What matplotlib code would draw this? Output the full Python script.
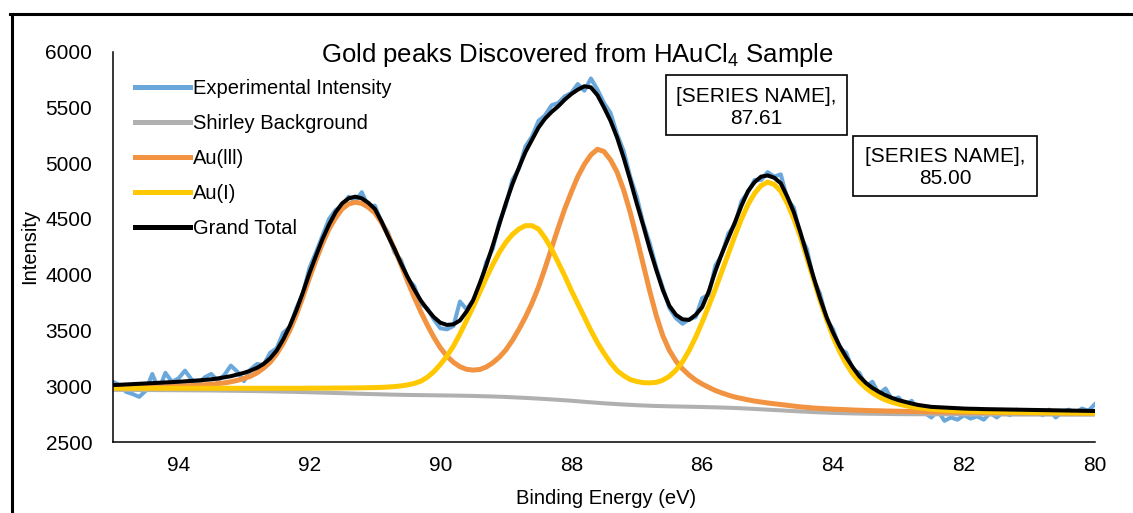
import numpy as np
import matplotlib
matplotlib.use("Agg")
import matplotlib.pyplot as plt
from matplotlib.lines import Line2D
from matplotlib.patches import Rectangle

plt.rcParams['font.family'] = ['Liberation Sans', 'DejaVu Sans']
plt.rcParams['mathtext.fontset'] = 'custom'
plt.rcParams['mathtext.rm'] = 'Liberation Sans'
plt.rcParams['mathtext.it'] = 'Liberation Sans'

# binding energy grids (eV)
energy = np.linspace(95.0, 80.0, 151)          # 0.1 eV steps
energy_bg = np.linspace(95.0, 80.0, 61)        # 0.25 eV steps

# measured counts
experimental = [
    3040, 3010, 2950, 2930, 2905, 2960, 3110, 2965, 3120, 3040,
    3070, 3140, 3060, 3020, 3080, 3110, 3050, 3100, 3185, 3130,
    3045, 3150, 3200, 3190, 3300, 3340, 3480, 3530, 3700, 3830,
    4060, 4200, 4350, 4500, 4580, 4620, 4700, 4660, 4740, 4610,
    4620, 4470, 4380, 4200, 4130, 3960, 3900, 3740, 3700, 3600,
    3520, 3510, 3540, 3760, 3690, 3770, 3870, 4110, 4230, 4470,
    4620, 4850, 4950, 5150, 5240, 5380, 5430, 5520, 5540, 5600,
    5630, 5710, 5650, 5760, 5660, 5540, 5450, 5260, 5110, 4880,
    4700, 4460, 4280, 4060, 3880, 3700, 3610, 3560, 3600, 3620,
    3790, 3820, 4080, 4180, 4370, 4450, 4660, 4740, 4850, 4850,
    4920, 4880, 4900, 4680, 4600, 4350, 4230, 3960, 3830, 3600,
    3510, 3340, 3300, 3150, 3120, 3000, 3040, 2930, 2980, 2880,
    2900, 2830, 2870, 2780, 2760, 2720, 2780, 2690, 2720, 2700,
    2740, 2710, 2730, 2700, 2760, 2720, 2770, 2740, 2790, 2750,
    2760, 2780, 2740, 2790, 2720, 2770, 2790, 2760, 2800, 2780,
    2840,
]

grand_total = [
    3011, 3013, 3016, 3019, 3022, 3025, 3028, 3031, 3034, 3037,
    3040, 3044, 3048, 3052, 3057, 3062, 3070, 3080, 3090, 3105,
    3120, 3140, 3165, 3200, 3250, 3320, 3420, 3540, 3680, 3840,
    4014, 4170, 4320, 4450, 4560, 4640, 4685, 4700, 4685, 4645,
    4590, 4480, 4350, 4230, 4100, 3980, 3870, 3770, 3690, 3620,
    3570, 3550, 3555, 3590, 3670, 3770, 3920, 4080, 4260, 4450,
    4640, 4810, 4960, 5100, 5210, 5320, 5400, 5460, 5510, 5570,
    5620, 5660, 5690, 5680, 5610, 5500, 5380, 5230, 5050, 4850,
    4640, 4440, 4230, 4040, 3860, 3720, 3640, 3600, 3595, 3640,
    3710, 3850, 4030, 4190, 4330, 4470, 4620, 4750, 4830, 4880,
    4890, 4870, 4820, 4700, 4560, 4380, 4180, 3980, 3790, 3620,
    3480, 3360, 3260, 3170, 3090, 3030, 2985, 2950, 2920, 2895,
    2875, 2860, 2845, 2832, 2823, 2815, 2812, 2809, 2806, 2803,
    2800, 2798, 2797, 2795, 2794, 2793, 2792, 2791, 2790, 2789,
    2788, 2787, 2786, 2785, 2784, 2783, 2782, 2781, 2780, 2779,
    2778,
]

au3 = [
    2985, 2986, 2987, 2988, 2990, 2991, 2993, 2994, 2996, 2998,
    3000, 3003, 3006, 3009, 3013, 3017, 3023, 3030, 3040, 3053,
    3070, 3090, 3120, 3162, 3215, 3290, 3385, 3500, 3640, 3800,
    3970, 4130, 4280, 4410, 4510, 4590, 4635, 4650, 4640, 4605,
    4555, 4470, 4360, 4230, 4090, 3940, 3800, 3670, 3550, 3440,
    3345, 3270, 3215, 3175, 3152, 3145, 3150, 3172, 3210, 3260,
    3325, 3410, 3510, 3620, 3745, 3890, 4060, 4240, 4420, 4590,
    4740, 4880, 4990, 5075, 5125, 5105, 5030, 4920, 4760, 4560,
    4330, 4090, 3850, 3630, 3450, 3320, 3225, 3155, 3100, 3055,
    3020, 2990, 2962, 2940, 2920, 2903, 2890, 2878, 2867, 2858,
    2850, 2843, 2836, 2829, 2822, 2815, 2810, 2805, 2801, 2798,
    2795, 2792, 2790, 2787, 2785, 2783, 2781, 2780, 2778, 2777,
    2776, 2775, 2774, 2773, 2772, 2771, 2770, 2769, 2769, 2768,
    2767, 2767, 2766, 2766, 2765, 2765, 2764, 2764, 2764, 2763,
    2763, 2762, 2762, 2762, 2761, 2761, 2761, 2760, 2760, 2760,
    2759,
]

au1 = [
    2982, 2982, 2982, 2982, 2982, 2982, 2982, 2982, 2982, 2982,
    2982, 2982, 2982, 2982, 2982, 2982, 2982, 2982, 2982, 2982,
    2982, 2982, 2982, 2982, 2982, 2982, 2982, 2982, 2982, 2982,
    2983, 2983, 2983, 2983, 2984, 2984, 2985, 2985, 2986, 2987,
    2988, 2990, 2993, 2997, 3003, 3012, 3025, 3045, 3080, 3130,
    3195, 3270, 3360, 3470, 3590, 3710, 3840, 3970, 4090, 4200,
    4290, 4360, 4410, 4440, 4440, 4410, 4330, 4230, 4110, 3990,
    3860, 3740, 3620, 3500, 3390, 3295, 3210, 3140, 3095, 3060,
    3043, 3032, 3030, 3035, 3055, 3090, 3145, 3220, 3320, 3440,
    3575, 3720, 3870, 4030, 4190, 4350, 4500, 4630, 4730, 4800,
    4830, 4810, 4750, 4640, 4500, 4340, 4150, 3960, 3770, 3600,
    3440, 3310, 3200, 3110, 3040, 2985, 2940, 2905, 2877, 2856,
    2840, 2827, 2816, 2807, 2800, 2794, 2789, 2785, 2782, 2779,
    2777, 2775, 2773, 2771, 2770, 2769, 2768, 2767, 2766, 2765,
    2764, 2763, 2763, 2762, 2762, 2761, 2761, 2760, 2760, 2759,
    2758,
]

shirley = [
    2968, 2967, 2966, 2965, 2964, 2963, 2962, 2960, 2958, 2956,
    2953, 2950, 2946, 2942, 2938, 2933, 2929, 2925, 2922, 2920,
    2918, 2916, 2913, 2909, 2904, 2897, 2889, 2880, 2870, 2858,
    2847, 2838, 2830, 2824, 2820, 2817, 2814, 2810, 2805, 2798,
    2790, 2782, 2774, 2767, 2761, 2757, 2754, 2752, 2750, 2749,
    2749, 2748, 2748, 2747, 2747, 2746, 2746, 2746, 2745, 2745,
    2745,
]

W, H = 1133, 513
fig = plt.figure(figsize=(W / 100, H / 100), dpi=100)
ax = fig.add_axes([113 / W, 1 - 442 / H, (1095 - 113) / W, (442 - 51.7) / H])

ax.plot(energy, experimental, color='#6AA8DC', lw=2.9, label='Experimental Intensity')
ax.plot(energy_bg, shirley, color='#B0B0B0', lw=2.9, label='Shirley Background')
ax.plot(energy, au3, color='#F19340', lw=3.6, label='Au(lll)')
ax.plot(energy, au1, color='#FFC800', lw=3.6, label='Au(I)')
ax.plot(energy, grand_total, color='black', lw=2.9, label='Grand Total')

ax.set_xlim(95, 80)
ax.set_ylim(2500, 6000)
ax.set_xticks([94, 92, 90, 88, 86, 84, 82, 80])
ax.set_yticks(range(2500, 6001, 500))
ax.tick_params(length=0, labelsize=15)
ax.tick_params(axis='y', pad=15)
ax.tick_params(axis='x', pad=10)
for s in ['top', 'right']:
    ax.spines[s].set_visible(False)
for s in ['left', 'bottom']:
    ax.spines[s].set_linewidth(1.1)

leg = ax.legend(loc='upper left', bbox_to_anchor=(135 / W, 1 - 79 / H),
                bbox_transform=fig.transFigure, frameon=False, fontsize=14.5,
                handlelength=2.75, handletextpad=0.15, borderpad=0,
                borderaxespad=0, labelspacing=0.8)
for line in leg.get_lines():
    line.set_linewidth(3.6)

fig.text(577 / W, 1 - 55 / H, 'Gold peaks Discovered from HAuCl$_4$ Sample',
         ha='center', va='center', fontsize=18.5)
fig.text(606 / W, 1 - 499 / H, 'Binding Energy (eV)', ha='center', va='center', fontsize=14.5)
fig.text(30 / W, 1 - 246 / H, 'Intensity', ha='center', va='center',
         rotation=90, fontsize=14.5)

# data label boxes
for (x0, y0, x1, y1), value in [((666, 75, 847, 135), '87.61'),
                                ((853, 136, 1037, 196), '85.00')]:
    fig.patches.append(Rectangle((x0 / W, 1 - y1 / H), (x1 - x0) / W, (y1 - y0) / H,
                                 transform=fig.transFigure, fill=True, fc='white',
                                 ec='black', lw=1.2))
    cx = (x0 + x1) / 2
    fig.text(cx / W, 1 - (y0 + 21) / H, '[SERIES NAME],', ha='center', va='center', fontsize=15)
    fig.text(cx / W, 1 - (y0 + 43) / H, value, ha='center', va='center', fontsize=15)

# chart area border (cut off at right and bottom)
fig.add_artist(Line2D([11.5 / W, 11.5 / W], [0, 1 - 13.5 / H], transform=fig.transFigure,
                      color='black', lw=2.2))
fig.add_artist(Line2D([10.5 / W, 1], [1 - 13.5 / H, 1 - 13.5 / H], transform=fig.transFigure,
                      color='black', lw=2.2))

fig.savefig('out.png', dpi=100)
